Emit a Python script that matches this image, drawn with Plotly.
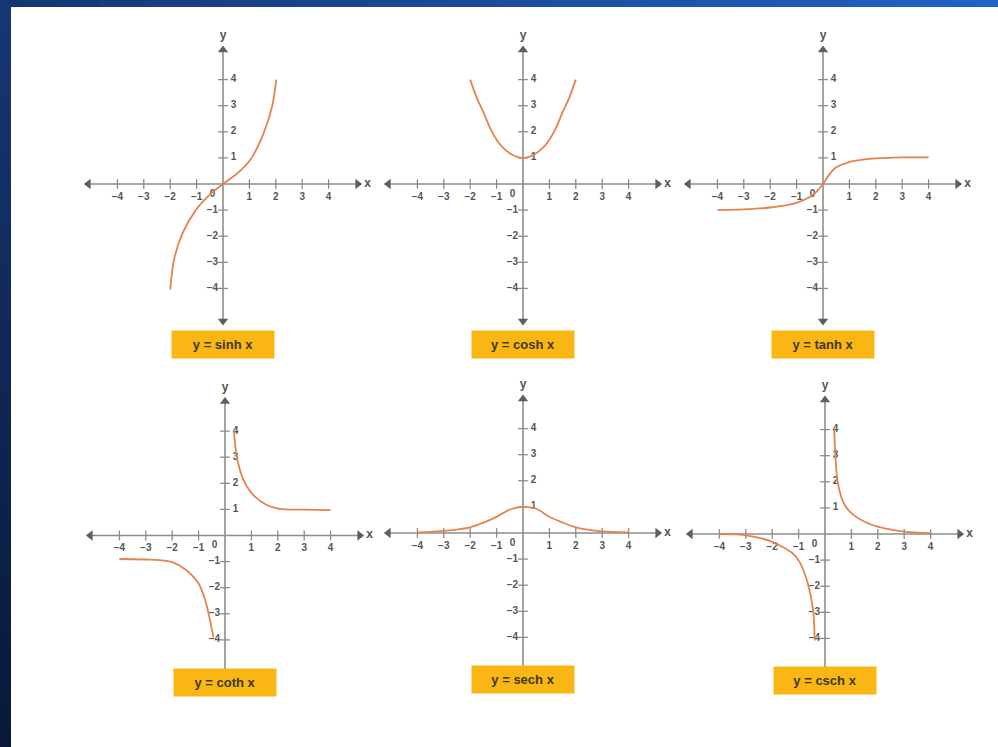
import plotly.graph_objects as go

W, H = 998, 747

# ---- curve samples (x, y) for each hyperbolic function ----
sinh_x = [-2.0, -1.86, -1.54, -1.03, -0.45, 0.0, 0.51, 1.03, 1.54, 1.86, 2.02]
sinh_y = [-4.05, -2.92, -1.9, -1.0, -0.36, 0.0, 0.38, 0.92, 1.95, 2.97, 4.0]

cosh_x = [-2.0, -1.75, -1.5, -1.25, -1.0, -0.75, -0.5, -0.25, 0.0,
          0.25, 0.5, 0.75, 1.0, 1.25, 1.5, 1.75, 2.0]
cosh_y = [4.0, 3.3, 2.75, 2.15, 1.7, 1.38, 1.18, 1.05, 1.0,
          1.05, 1.18, 1.38, 1.7, 2.15, 2.75, 3.3, 4.0]

tanh_x = [-4.0, -3.0, -2.0, -1.0, -0.5, -0.25, 0.0, 0.25, 0.5, 1.0, 1.5, 2.0, 3.0, 4.0]
tanh_y = [-1.0, -0.97, -0.9, -0.72, -0.5, -0.3, 0.0, 0.38, 0.64, 0.84, 0.93, 0.98, 1.02, 1.02]

coth_right_x = [0.34, 0.44, 0.69, 1.0, 1.56, 2.06, 3.0, 4.0]
coth_right_y = [4.0, 3.05, 2.15, 1.63, 1.18, 1.02, 0.99, 0.97]
coth_left_x = [-4.0, -3.0, -2.5, -2.0, -1.5, -1.0, -0.75, -0.6, -0.44]
coth_left_y = [-0.9, -0.92, -0.94, -1.02, -1.3, -1.84, -2.48, -3.1, -3.9]

sech_x = [-4.0, -3.0, -2.0, -1.5, -1.0, -0.5, 0.0, 0.5, 1.0, 1.5, 2.0, 3.0, 4.0]
sech_y = [0.02, 0.08, 0.22, 0.4, 0.62, 0.9, 1.0, 0.93, 0.62, 0.4, 0.22, 0.06, 0.02]

csch_right_x = [0.35, 0.39, 0.48, 0.71, 1.0, 1.5, 2.0, 3.0, 4.0]
csch_right_y = [4.0, 3.04, 2.0, 1.18, 0.8, 0.47, 0.28, 0.09, 0.03]
csch_left_x = [-4.0, -3.05, -2.0, -1.23, -0.97, -0.65, -0.45, -0.39]
csch_left_y = [0.0, -0.04, -0.3, -0.74, -1.06, -1.9, -2.92, -4.08]

# ---- axis ticks and labels ----
tick_values = [-4, -3, -2, -1, 1, 2, 3, 4]
tick_labels = ["\u22124", "\u22123", "\u22122", "\u22121", "1", "2", "3", "4"]

titles = ["y = sinh x", "y = cosh x", "y = tanh x",
          "y = coth x", "y = sech x", "y = csch x"]

curves = [
    [(sinh_x, sinh_y)],
    [(cosh_x, cosh_y)],
    [(tanh_x, tanh_y)],
    [(coth_left_x, coth_left_y), (coth_right_x, coth_right_y)],
    [(sech_x, sech_y)],
    [(csch_left_x, csch_left_y), (csch_right_x, csch_right_y)],
]

# ---- layout geometry (pixels) ----
origins = [(223, 184), (523, 184), (823, 184),
           (225, 535.5), (523, 533), (825, 534)]
label_box_y = [344.5, 344.5, 344.5, 696.5, 694, 695]
UX, UY = 26.4, 26.1          # pixels per unit
HALF = 5.5                   # half range of each panel in units
X_ARROW = (-5.1, 5.1)
Y_ARROW = (-5.25, 5.13)
LABEL_GAP_X = 0.5            # x tick labels sit this far below the axis
LABEL_GAP_Y = 0.4            # y tick labels sit this far beside the axis

AXIS_COLOR = "#8c8c8c"
HEAD_COLOR = "#5f5f5f"
CURVE_COLOR = "#e5834c"
TEXT_COLOR = "#555555"
FONT = "Liberation Sans"

fig = go.Figure()
layout = {}
annotations = []

for i in range(6):
    n = i + 1
    xa, ya = f"x{n}", f"y{n}"
    ox, oy = origins[i]
    layout[f"xaxis{n}"] = dict(
        domain=[(ox - HALF * UX) / W, (ox + HALF * UX) / W],
        range=[-HALF, HALF], visible=False, fixedrange=True, anchor=ya)
    layout[f"yaxis{n}"] = dict(
        domain=[(H - oy - HALF * UY) / H, (H - oy + HALF * UY) / H],
        range=[-HALF, HALF], visible=False, fixedrange=True, anchor=xa)

    common = dict(xaxis=xa, yaxis=ya, hoverinfo="skip", showlegend=False,
                  cliponaxis=False)

    # x axis line with arrowheads
    fig.add_trace(go.Scatter(
        x=list(X_ARROW), y=[0, 0], mode="lines+markers",
        line=dict(color=AXIS_COLOR, width=1.6),
        marker=dict(symbol=["triangle-left", "triangle-right"], size=9,
                    color=HEAD_COLOR, line=dict(width=0)), **common))
    # y axis line with arrowheads
    fig.add_trace(go.Scatter(
        x=[0, 0], y=list(Y_ARROW), mode="lines+markers",
        line=dict(color=AXIS_COLOR, width=1.6),
        marker=dict(symbol=["triangle-down", "triangle-up"], size=9,
                    color=HEAD_COLOR, line=dict(width=0)), **common))

    # tick marks
    fig.add_trace(go.Scatter(
        x=tick_values, y=[0] * len(tick_values), mode="markers",
        marker=dict(symbol="line-ns", size=7,
                    line=dict(width=1.3, color=AXIS_COLOR)), **common))
    fig.add_trace(go.Scatter(
        x=[0] * len(tick_values), y=tick_values, mode="markers",
        marker=dict(symbol="line-ew", size=7,
                    line=dict(width=1.3, color=AXIS_COLOR)), **common))

    tick_font = dict(family=FONT, size=10, color=TEXT_COLOR, weight="bold")
    # x tick labels below the axis
    fig.add_trace(go.Scatter(
        x=tick_values, y=[-LABEL_GAP_X] * len(tick_values), mode="text",
        text=tick_labels, textposition="middle center", textfont=tick_font,
        **common))
    # y tick labels: positive on the right, negative on the left
    fig.add_trace(go.Scatter(
        x=[LABEL_GAP_Y if v > 0 else -LABEL_GAP_Y for v in tick_values],
        y=tick_values, mode="text", text=tick_labels,
        textposition="middle center", textfont=tick_font, **common))
    # origin label and axis names
    fig.add_trace(go.Scatter(
        x=[-0.4, 0, X_ARROW[1] + 0.25], y=[-0.4, Y_ARROW[1] + 0.3, 0],
        mode="text", text=["0", "y", "x"],
        textposition=["middle center", "top center", "middle right"],
        textfont=dict(family=FONT, size=[10, 12, 12], color=TEXT_COLOR,
                      weight="bold"), **common))

    # the function curve(s)
    for cx, cy in curves[i]:
        fig.add_trace(go.Scatter(
            x=cx, y=cy, mode="lines",
            line=dict(color=CURVE_COLOR, width=1.8, shape="spline", smoothing=0.8),
            **common))

    # yellow caption box
    annotations.append(dict(
        x=0, xref=xa, y=1 - label_box_y[i] / H, yref="paper",
        text=titles[i], showarrow=False, bgcolor="#f9b614",
        width=100, height=25, align="center", valign="middle",
        font=dict(family=FONT, size=13, color="#3f3a1c", weight="bold")))

# ---- page background: white sheet over a blue frame ----
shapes = []
N = 40
def mix(c1, c2, t):
    a = [int(c1[k:k + 2], 16) for k in (1, 3, 5)]
    b = [int(c2[k:k + 2], 16) for k in (1, 3, 5)]
    return "rgb(%d,%d,%d)" % tuple(round(a[j] + (b[j] - a[j]) * t) for j in range(3))

for k in range(N):
    # top strip: darker on the left, brighter blue on the right
    shapes.append(dict(type="rect", xref="paper", yref="paper", layer="below",
                       x0=k / N, x1=(k + 1) / N + 0.002, y0=1 - 8 / H, y1=1,
                       fillcolor=mix("#163673", "#2262c6", k / (N - 1)),
                       line=dict(width=0)))
    # left strip: from mid blue at top down to navy at the bottom
    shapes.append(dict(type="rect", xref="paper", yref="paper", layer="below",
                       x0=0, x1=11 / W, y0=1 - (k + 1) / N - 0.002, y1=1 - k / N,
                       fillcolor=mix("#173674", "#091838", k / (N - 1)),
                       line=dict(width=0)))
shapes.append(dict(type="rect", xref="paper", yref="paper", layer="below",
                   x0=11 / W, x1=1, y0=0, y1=1 - 7 / H,
                   fillcolor="white", line=dict(width=0)))

fig.update_layout(
    width=W, height=H, margin=dict(l=0, r=0, t=0, b=0),
    paper_bgcolor="#0f2656", plot_bgcolor="rgba(0,0,0,0)",
    shapes=shapes, annotations=annotations, showlegend=False,
    hovermode=False, **layout)

fig.write_html("out.html", config={"displayModeBar": False})
